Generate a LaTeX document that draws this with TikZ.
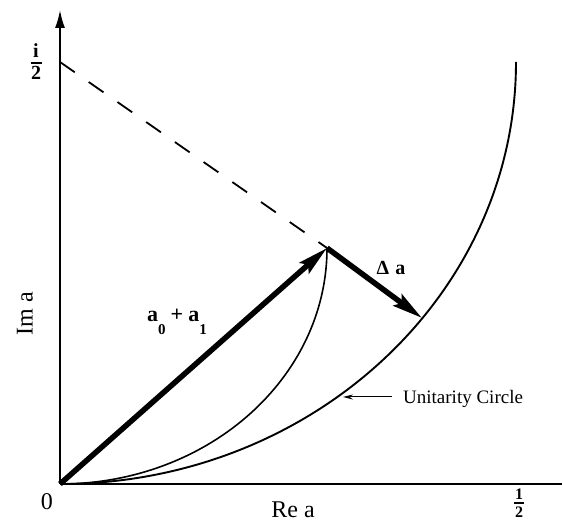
\documentclass[tikz,border=0pt]{standalone}
\usepackage{fontspec}
\setmainfont{Liberation Serif}
\usetikzlibrary{arrows.meta}
\begin{document}
\begin{tikzpicture}[x=1pt,y=1pt,
  axis/.style={line width=1.8pt},
  ucurve/.style={line width=1.9pt},
  icurve/.style={line width=1.6pt},
  bigarrow/.style={line width=5.5pt,-{Stealth[length=30pt,width=14pt,inset=5pt]}},
  pointer/.style={line width=1pt,-{Stealth[length=10pt,width=5pt]}},
  lbl/.style={inner sep=0pt,font=\fontsize{24}{24}\selectfont},
  blbl/.style={inner sep=0pt,font=\fontsize{20}{20}\selectfont\bfseries},
  fracbig/.style={inner sep=0pt,font=\fontsize{20}{20}\selectfont\bfseries},
  fracsmall/.style={inner sep=0pt,font=\fontsize{16}{16}\selectfont\bfseries},
  fracbar/.style={line width=1.8pt}]
\useasboundingbox (0,0) rectangle (563,522);
% key points
\coordinate (O) at (60,38);
\coordinate (T) at (60,512);
\coordinate (X) at (562,38);
\coordinate (C) at (60,460);
\coordinate (A) at (327,274);
\coordinate (D) at (422,204);
% axes
\draw[axis] (O) -- (X);
\draw[axis,-{Latex[length=18pt,width=10pt]}] (O) -- (T);
% unitarity circle
\draw[ucurve] (O) arc[start angle=-90,end angle=0,x radius=456pt,y radius=422pt];
% inner curve
\draw[icurve] (O) arc[start angle=-90,end angle=0,x radius=267pt,y radius=236pt];
% dashed line
\draw[line width=1.8pt,dash pattern=on 18pt off 17pt] (C) -- (A);
% vectors
\draw[bigarrow] (O) -- (A);
\draw[bigarrow] (A) -- (D);
% labels
\node[lbl] (zero) at (47,20) {0};
\node[lbl,anchor=base] (rea) at (293,4) {Re a};
\node[lbl,rotate=90] (ima) at (25,208) {Im a};
\node[blbl,font=\fontsize{22}{22}\selectfont\bfseries,anchor=base] (sum) at (177,200) {a\raisebox{-13pt}{\fontsize{15}{15}\selectfont 0}\hspace{5pt}+\hspace{5pt}a\raisebox{-13pt}{\fontsize{15}{15}\selectfont 1}};
\node[blbl,anchor=base] (da) at (391,247) {Δ\hspace{6pt}a};
\node[inner sep=0pt,font=\fontsize{19}{19}\selectfont,anchor=base west] (uc) at (403,118.5) {Unitarity Circle};
\coordinate (P) at (343,125);
\draw[pointer,shorten <=11pt] (uc.west |- P) -- (P);
% fraction i/2
\coordinate (ihalf) at (36,459);
\draw[fracbar] ([xshift=-5.5pt]ihalf) -- ([xshift=5.5pt]ihalf);
\node[fracbig,anchor=base] (inum) at (36,464) {i};
\node[fracbig,anchor=north] (iden) at (36,456) {2};
% fraction 1/2
\coordinate (rhalf) at (519,19);
\draw[fracbar] ([xshift=-5pt]rhalf) -- ([xshift=5pt]rhalf);
\node[fracsmall,anchor=base] (rnum) at (519,22) {1};
\node[fracsmall,anchor=north] (rden) at (519,15) {2};
\end{tikzpicture}
\end{document}
